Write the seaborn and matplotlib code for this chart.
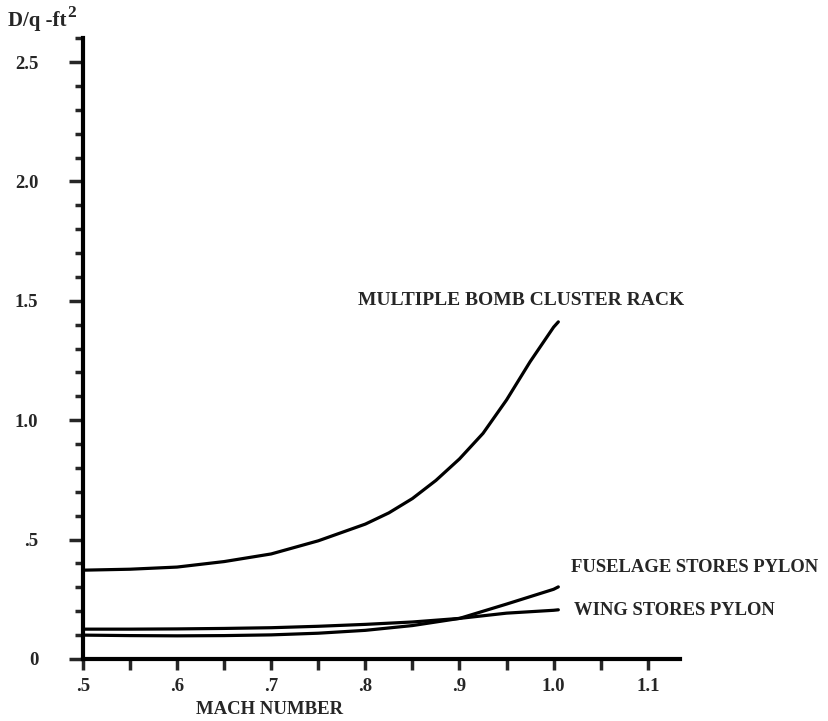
import numpy as np
import pandas as pd
import matplotlib
matplotlib.use("Agg")
import matplotlib.pyplot as plt
import seaborn as sns
from matplotlib.ticker import MultipleLocator, FixedLocator

# values
machBomb = [0.50, 0.55, 0.60, 0.65, 0.70, 0.75, 0.80, 0.825, 0.85, 0.875, 0.90, 0.925, 0.95, 0.975, 1.00, 1.005]
dqBomb = [0.372, 0.376, 0.385, 0.408, 0.440, 0.495, 0.565, 0.612, 0.672, 0.748, 0.838, 0.945, 1.085, 1.245, 1.390, 1.412]

machFuse = [0.50, 0.55, 0.60, 0.65, 0.70, 0.75, 0.80, 0.85, 0.90, 0.95, 1.00, 1.005]
dqFuse = [0.100, 0.098, 0.097, 0.098, 0.101, 0.108, 0.120, 0.140, 0.170, 0.230, 0.292, 0.302]

machWing = [0.50, 0.55, 0.60, 0.65, 0.70, 0.75, 0.80, 0.85, 0.90, 0.95, 1.00, 1.005]
dqWing = [0.125, 0.125, 0.126, 0.128, 0.131, 0.137, 0.145, 0.155, 0.170, 0.192, 0.204, 0.206]

xTicks = [0.5, 0.6, 0.7, 0.8, 0.9, 1.0, 1.1]
xTickLabels = [".5", ".6", ".7", ".8", ".9", "1.0", "1.1"]
yTicks = [0.0, 0.5, 1.0, 1.5, 2.0, 2.5]
yTickLabels = ["0", ".5", "1.0", "1.5", "2.0", "2.5"]

sns.set_style("white")
plt.rcParams["font.family"] = ["Liberation Serif", "DejaVu Serif"]
plt.rcParams["font.weight"] = "bold"

fig = plt.figure(figsize=(8.29, 7.21), dpi=100)
ax = fig.add_axes([0.100, 0.086, 0.720, 0.861])

for m, d in [(machBomb, dqBomb), (machFuse, dqFuse), (machWing, dqWing)]:
    df = pd.DataFrame({"mach": m, "dq": d})
    sns.lineplot(data=df, x="mach", y="dq", ax=ax, color="black", linewidth=2.3,
                 sort=False, solid_capstyle="round", solid_joinstyle="round")

ax.set_xlim(0.5, 1.134)
ax.set_ylim(0, 2.6)

ax.xaxis.set_major_locator(FixedLocator(xTicks))
ax.set_xticklabels(xTickLabels)
ax.xaxis.set_minor_locator(MultipleLocator(0.05))
ax.yaxis.set_major_locator(FixedLocator(yTicks))
ax.set_yticklabels(yTickLabels)
ax.yaxis.set_minor_locator(MultipleLocator(0.1))

ax.tick_params(axis="x", which="both", direction="out", length=8, width=2.5,
               bottom=True, labelsize=13.5, pad=6)
ax.tick_params(axis="y", which="major", direction="out", length=10, width=2.5,
               left=True, labelsize=13.5, pad=22)
ax.tick_params(axis="y", which="minor", direction="out", length=6, width=2.5, left=True)
for lab in ax.get_xticklabels() + ax.get_yticklabels():
    lab.set_fontweight("bold")

for side in ["top", "right"]:
    ax.spines[side].set_visible(False)
for side in ["left", "bottom"]:
    ax.spines[side].set_linewidth(3)
    ax.spines[side].set_color("black")

ax.set_xlabel("MACH NUMBER", fontsize=13.5, fontweight="bold")
ax.xaxis.set_label_coords(0.312, -0.068)
ax.set_ylabel("")

ax.text(0.792, 1.5, "MULTIPLE BOMB CLUSTER RACK", fontsize=14, fontweight="bold",
        ha="left", va="center")
ax.text(1.018, 0.385, "FUSELAGE STORES PYLON", fontsize=13.4, fontweight="bold",
        ha="left", va="center", clip_on=False)
ax.text(1.022, 0.205, "WING STORES PYLON", fontsize=13.4, fontweight="bold",
        ha="left", va="center", clip_on=False)

fig.text(8 / 829, 1 - 26 / 721, "D/q -ft", fontsize=15, fontweight="bold",
         ha="left", va="baseline")
fig.text(67 / 829, 1 - 17 / 721, "2", fontsize=12.5, fontweight="bold",
         ha="left", va="baseline")

fig.savefig("out.png", dpi=100)
